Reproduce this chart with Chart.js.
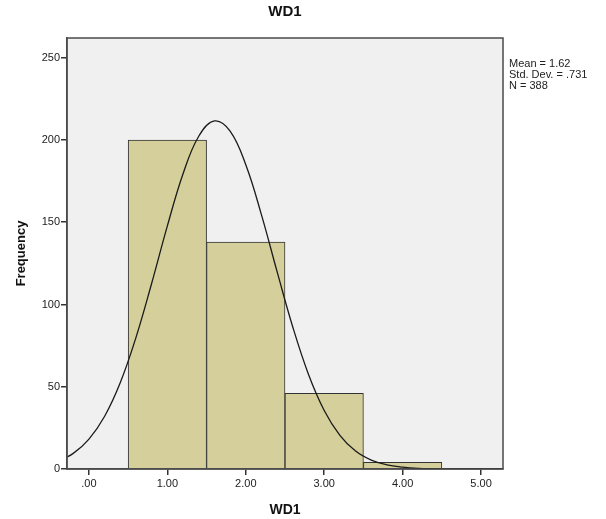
<!DOCTYPE html>
<html>
<head>
<meta charset="utf-8">
<script src="https://cdn.jsdelivr.net/npm/chart.js@4/dist/chart.umd.min.js"></script>
<style>
  html, body { margin: 0; padding: 0; background: #fff; }
  #wrap { width: 606px; height: 519px; }
</style>
</head>
<body>
<div id="wrap"><canvas id="histChart" width="606" height="519"></canvas></div>
<script>
// histogram bins (centres) and counts
const binCentres = [1, 2, 3, 4];
const binCounts = [200, 138, 46, 4];

// normal curve
const curveX = [-0.4, -0.2, 0, 0.2, 0.4, 0.6, 0.8, 1.0, 1.2, 1.4, 1.6, 1.8, 2.0, 2.2, 2.4, 2.6,
  2.8, 3.0, 3.2, 3.4, 3.6, 3.8, 4.0, 4.2, 4.4, 4.6, 4.8, 5.0, 5.2, 5.4];
const curveY = [4.7, 9.5, 18.2, 32.1, 52.6, 80.0, 112.9, 147.8, 179.5, 202.3, 211.6, 205.4, 184.9,
  154.5, 119.8, 86.2, 57.5, 35.6, 20.5, 10.9, 5.4, 2.5, 1.1, 0.4, 0.2, 0.05, 0, 0, 0, 0];

const xTicks = [0, 1, 2, 3, 4, 5];
const yTicks = [0, 50, 100, 150, 200, 250];
const statLines = ['Mean = 1.62', 'Std. Dev. = .731', 'N = 388'];

const FONT = 'Arial, "Liberation Sans", sans-serif';

const frame = {
  id: 'frame',
  beforeDraw(chart) {
    const a = chart.chartArea, c = chart.ctx;
    c.save();
    c.fillStyle = '#f0f0f0';
    c.fillRect(a.left, a.top, a.right - a.left, a.bottom - a.top);
    c.restore();
  },
  afterDraw(chart) {
    const a = chart.chartArea, c = chart.ctx;
    c.save();
    c.strokeStyle = '#4a4a4a';
    c.lineWidth = 1.5;
    c.strokeRect(a.left, a.top, a.right - a.left, a.bottom - a.top);
    c.fillStyle = '#222';
    c.font = '11px ' + FONT;
    c.textBaseline = 'top';
    statLines.forEach((s, i) => c.fillText(s, a.right + 6, a.top + 20 + i * 11));
    c.restore();
  }
};

const ctx = document.getElementById('histChart').getContext('2d');
new Chart(ctx, {
  data: {
    datasets: [
      {
        type: 'line',
        data: curveX.map((x, i) => ({ x: x, y: curveY[i] })),
        borderColor: '#1a1a1a',
        borderWidth: 1.3,
        pointRadius: 0,
        tension: 0.4,
        fill: false,
        order: 0
      },
      {
        type: 'bar',
        data: binCentres.map((x, i) => ({ x: x, y: binCounts[i] })),
        backgroundColor: '#d4cf9b',
        borderColor: '#333',
        borderWidth: 1,
        barPercentage: 1,
        categoryPercentage: 1,
        order: 1
      }
    ]
  },
  options: {
    responsive: false,
    animation: false,
    layout: { padding: { top: 0, right: 103, left: 0, bottom: 0 } },
    plugins: {
      legend: { display: false },
      tooltip: { enabled: false },
      title: {
        display: true,
        text: 'WD1',
        fullSize: false,
        color: '#111',
        font: { family: FONT, size: 15, weight: 'bold', lineHeight: 1.2 },
        padding: { top: 3, bottom: 17 }
      }
    },
    scales: {
      x: {
        type: 'linear',
        offset: false,
        min: -0.28,
        max: 5.28,
        afterBuildTicks: s => { s.ticks = xTicks.map(v => ({ value: v })); },
        afterFit: s => { s.height = 50; },
        grid: { offset: false, drawOnChartArea: false, drawTicks: true, tickLength: 6, color: '#333', lineWidth: 1.5 },
        border: { display: true, color: '#4a4a4a', width: 1.5 },
        ticks: {
          color: '#222',
          font: { family: FONT, size: 11 },
          padding: 2,
          maxRotation: 0,
          callback: v => v === 0 ? '.00' : v.toFixed(2)
        },
        title: {
          display: true,
          text: 'WD1',
          color: '#111',
          font: { family: FONT, size: 14, weight: 'bold', lineHeight: 1.2 },
          padding: { top: 2, bottom: 0 }
        }
      },
      y: {
        min: 0,
        max: 262,
        afterBuildTicks: s => { s.ticks = yTicks.map(v => ({ value: v })); },
        afterFit: s => { s.width = 67; },
        grid: { drawOnChartArea: false, drawTicks: true, tickLength: 6, color: '#333', lineWidth: 1.5 },
        border: { display: true, color: '#4a4a4a', width: 1.5 },
        ticks: {
          color: '#222',
          font: { family: FONT, size: 11 },
          padding: 1
        },
        title: {
          display: true,
          text: 'Frequency',
          color: '#111',
          font: { family: FONT, size: 13, weight: 'bold', lineHeight: 1.2 },
          padding: { top: 14, bottom: 0 }
        }
      }
    }
  },
  plugins: [frame]
});
</script>
</body>
</html>
